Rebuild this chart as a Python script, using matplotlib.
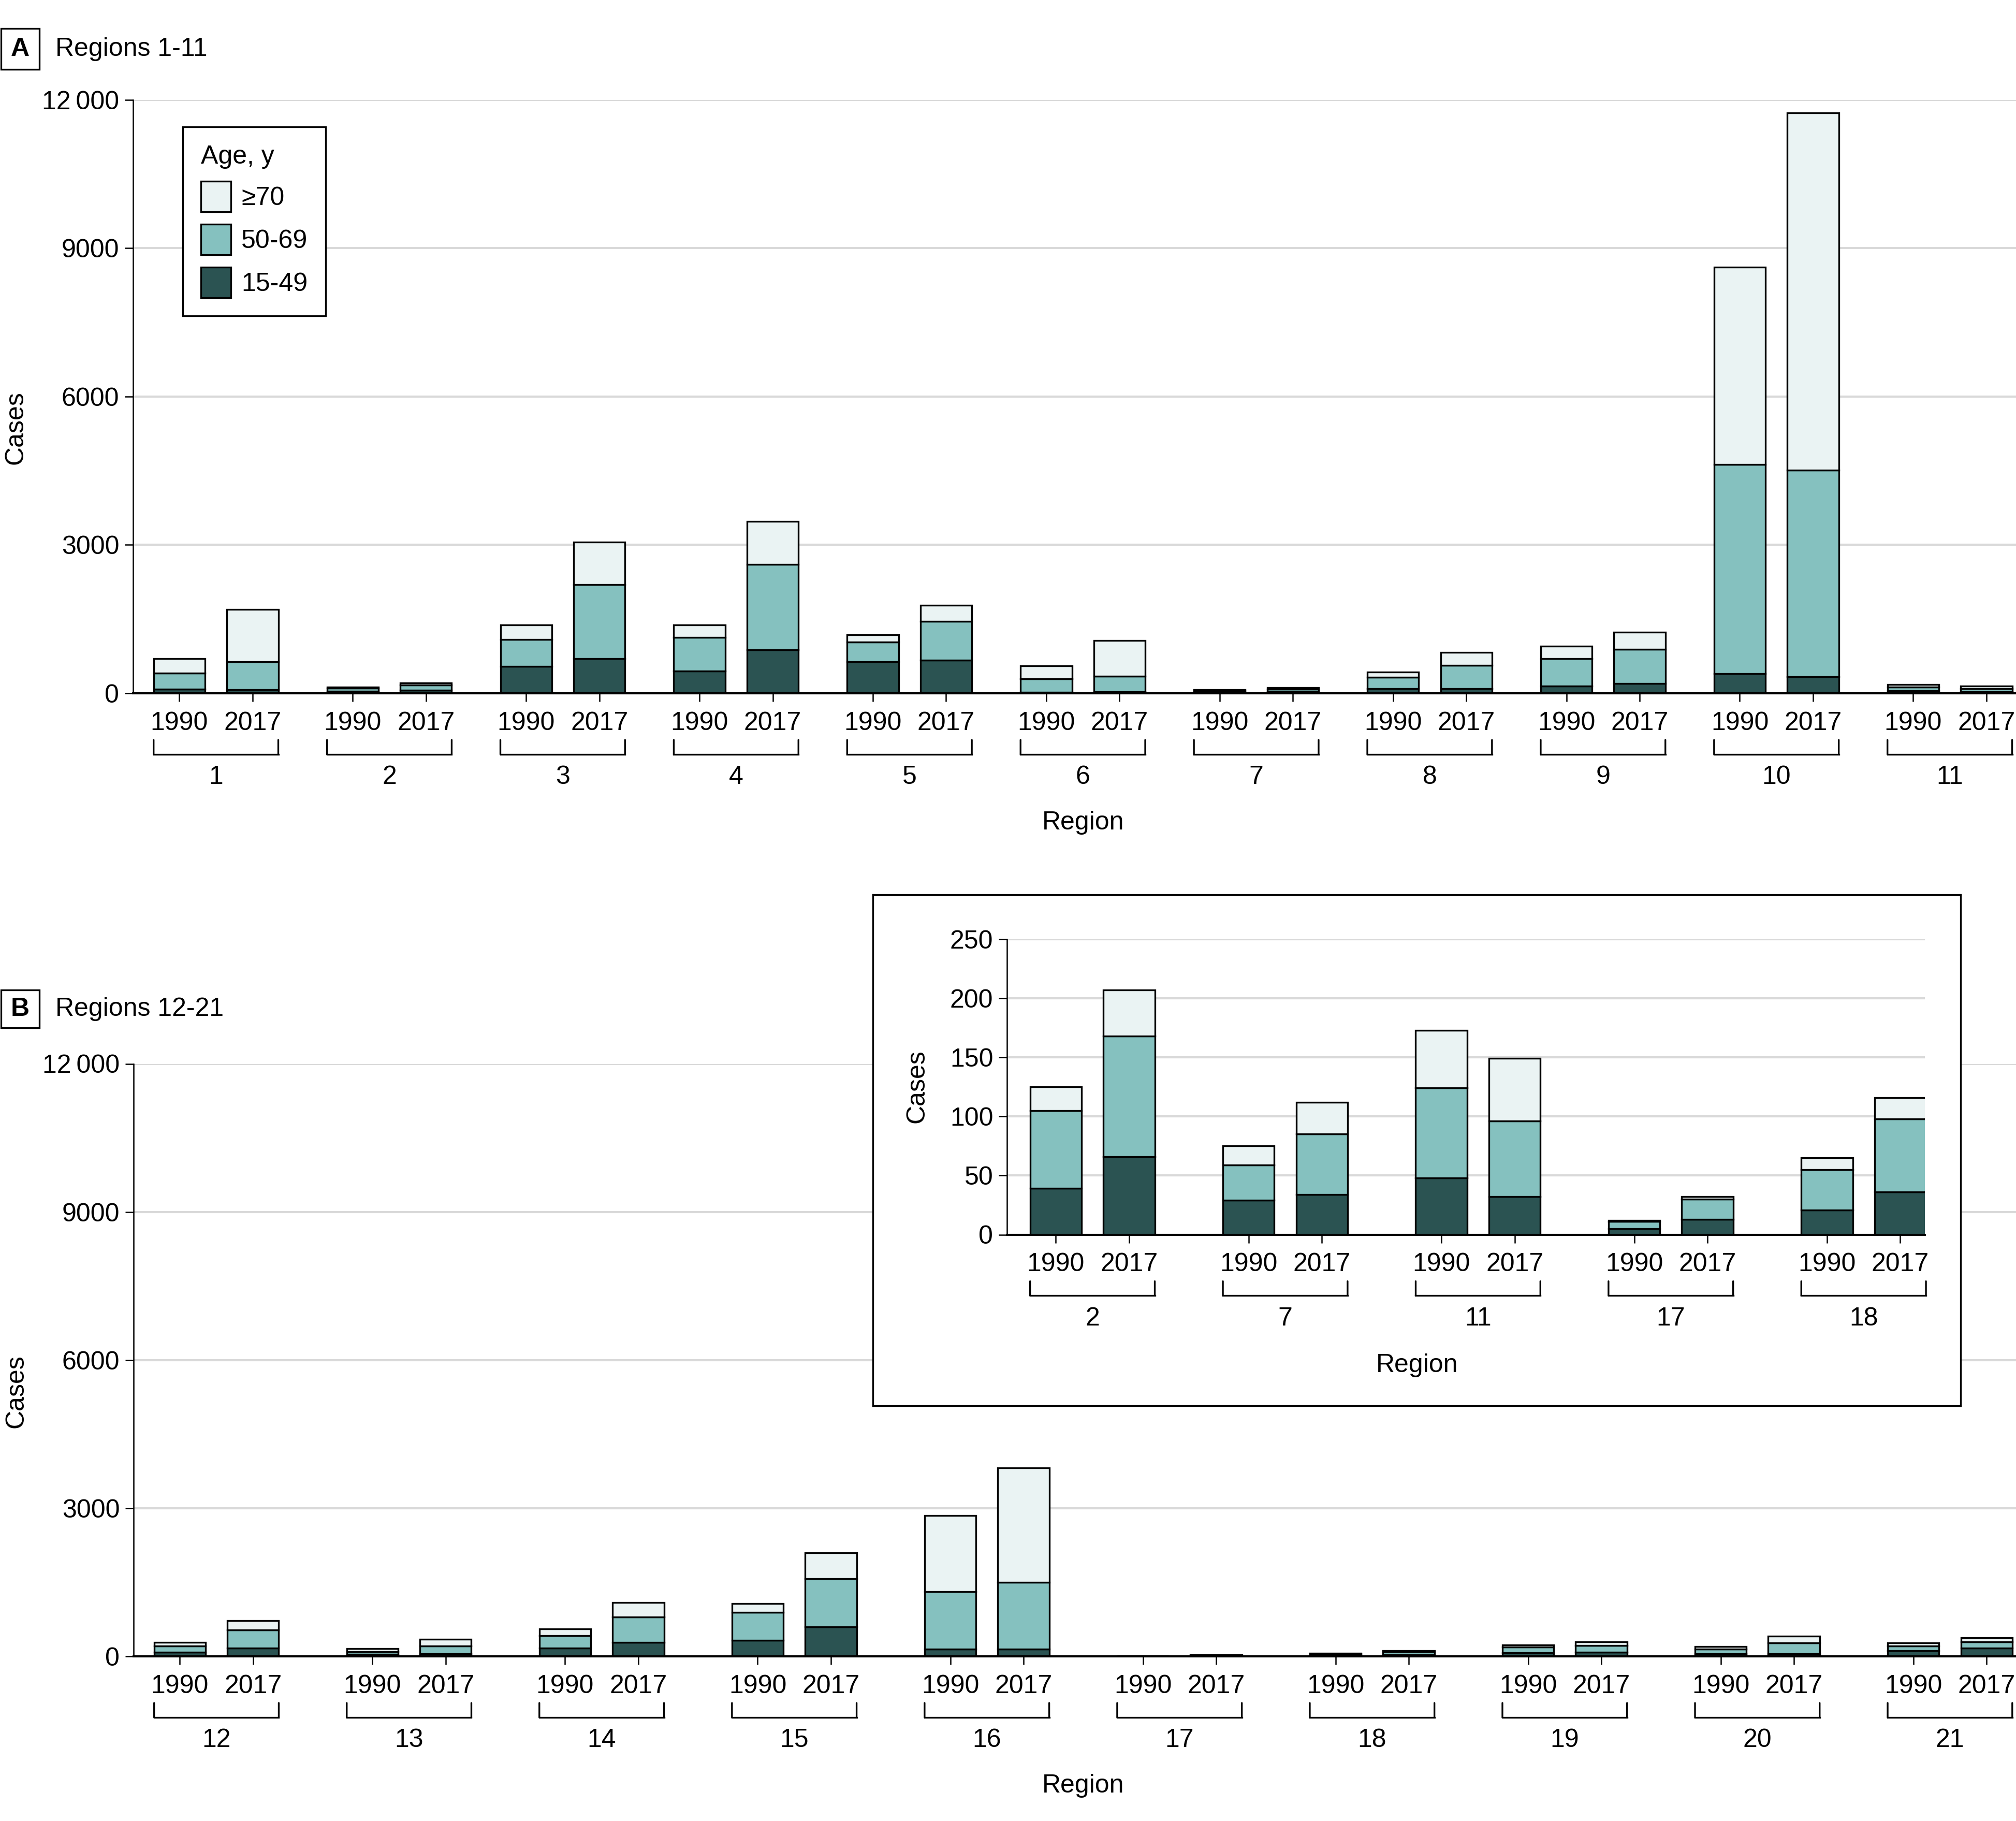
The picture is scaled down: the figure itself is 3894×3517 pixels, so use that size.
import numpy as np
import matplotlib.pyplot as plt
from matplotlib.patches import Rectangle, Patch
from matplotlib.transforms import ScaledTranslation

plt.rcParams['font.family'] = ['Liberation Sans', 'DejaVu Sans']
plt.rcParams['font.size'] = 12

# Panel A: regions 1-11
regions_a = list(range(1, 12))
a_1990_15_49 = [85, 39, 549, 448, 636, 23, 29, 91, 143, 398, 48]
a_1990_50_69 = [327, 66, 536, 681, 402, 266, 30, 238, 555, 4230, 76]
a_1990_70 = [293, 20, 300, 251, 149, 267, 16, 100, 252, 3991, 49]
a_2017_15_49 = [75, 66, 701, 876, 668, 33, 34, 94, 203, 339, 32]
a_2017_50_69 = [566, 102, 1498, 1728, 785, 317, 51, 471, 687, 4169, 64]
a_2017_70 = [1057, 39, 861, 873, 327, 716, 27, 259, 345, 7231, 53]

# Panel B: regions 12-21
regions_b = list(range(12, 22))
b_1990_15_49 = [88, 37, 173, 327, 143, 5, 21, 70, 51, 118]
b_1990_50_69 = [125, 55, 246, 566, 1166, 6, 34, 114, 96, 88]
b_1990_70 = [66, 66, 132, 173, 1544, 1, 10, 48, 55, 62]
b_2017_15_49 = [165, 55, 287, 596, 143, 13, 36, 88, 55, 165]
b_2017_50_69 = [368, 158, 507, 977, 1357, 17, 62, 136, 217, 133]
b_2017_70 = [191, 129, 298, 519, 2319, 2, 18, 66, 136, 81]

# regions shown in the zoomed inset
inset_regions = [2, 7, 11, 17, 18]

age_labels = ['15-49', '50-69', '\u226570']
colors = ['#2b5352', '#85c1bf', '#eaf3f3']

W, H = 3894, 3517
fig = plt.figure(figsize=(W / 300, H / 300), dpi=300)


def fig_rect(x0, y0, x1, y1):
    return [x0 / W, 1 - y1 / H, (x1 - x0) / W, (y1 - y0) / H]


def offset(ax, dy):
    return ax.get_xaxis_transform() + ScaledTranslation(0, -dy / 72, fig.dpi_scale_trans)


def draw_panel(ax, labels, s1990, s2017, first, step, xmax, ymax, yticks, yticklabels):
    n = len(labels)
    centers = first + step * np.arange(n)
    for xs, stacks in ((centers - 28.5, s1990), (centers + 28.5, s2017)):
        bottom = np.zeros(n)
        for vals, col in zip(stacks, colors):
            vals = np.asarray(vals, dtype=float)
            ax.bar(xs, vals, width=40, bottom=bottom, color=col,
                   edgecolor='black', linewidth=0.8, zorder=3)
            bottom += vals
    ax.set_xlim(0, xmax)
    ax.set_ylim(0, ymax)
    ax.set_xticks(np.concatenate([centers - 28.5, centers + 28.5]))
    ax.set_xticklabels(['1990'] * n + ['2017'] * n)
    ax.set_yticks(yticks)
    ax.set_yticklabels(yticklabels)
    ax.tick_params(axis='x', length=3.8, width=0.6, pad=4.5)
    ax.tick_params(axis='y', length=3.8, width=0.6, pad=2.6)
    ax.grid(axis='y', color='#d9d9d9', linewidth=1.0)
    ax.set_axisbelow(True)
    for s in ('top', 'right'):
        ax.spines[s].set_visible(False)
    ax.spines['left'].set_linewidth(0.6)
    ax.spines['bottom'].set_linewidth(1.0)
    ax.spines['bottom'].set_zorder(4)
    # brackets and region numbers under each pair of bars
    tr_top = offset(ax, 21.6)
    tr_bot = offset(ax, 28.3)
    for c, lab in zip(centers, labels):
        for x in (c - 48.5, c + 48.5):
            ax.annotate('', xy=(x, 0), xycoords=tr_bot, xytext=(x, 0),
                        textcoords=tr_top,
                        arrowprops=dict(arrowstyle='-', lw=0.8, color='black',
                                        shrinkA=0, shrinkB=0))
        ax.plot([c - 48.5, c + 48.5], [0, 0], transform=tr_bot,
                color='black', lw=0.8, clip_on=False, solid_capstyle='projecting')
        ax.text(c, 0, str(lab), transform=offset(ax, 39), ha='center', va='center')
    return centers


def panel_stacks(regs, all_regs, arrays):
    idx = [all_regs.index(r) for r in regs]
    return [[arr[i] for i in idx] for arr in arrays]


big_ticks = [0, 3000, 6000, 9000, 12000]
big_labels = ['0', '3000', '6000', '9000', '12\u2009000']

# Panel A
ax_a = fig.add_axes(fig_rect(257, 192.6, 3894, 1339))
draw_panel(ax_a, regions_a,
           [a_1990_15_49, a_1990_50_69, a_1990_70],
           [a_2017_15_49, a_2017_50_69, a_2017_70],
           64.5, 134.9, 1465, 12000, big_ticks, big_labels)
ax_a.set_ylabel('Cases', va='center')
ax_a.yaxis.set_label_coords(-0.0624, 0.447)
ax_a.text(739, 0, 'Region', transform=offset(ax_a, 60), ha='center', va='center')

handles = [Patch(facecolor=c, edgecolor='black', linewidth=0.8) for c in colors][::-1]
leg = ax_a.legend(handles, age_labels[::-1], title='Age, y', loc='upper left',
                  bbox_to_anchor=(0.0264, 0.9543), borderaxespad=0,
                  fancybox=False, edgecolor='black', framealpha=1,
                  handlelength=1.16, handleheight=1.42, labelspacing=0.49,
                  handletextpad=0.4, borderpad=0.7, alignment='left')
leg.get_frame().set_linewidth(0.8)

# Panel B
ax_b = fig.add_axes(fig_rect(258, 2054.5, 3894, 3199))
draw_panel(ax_b, regions_b,
           [b_1990_15_49, b_1990_50_69, b_1990_70],
           [b_2017_15_49, b_2017_50_69, b_2017_70],
           64.5, 149.9, 1465, 12000, big_ticks, big_labels)
ax_b.set_ylabel('Cases', va='center')
ax_b.yaxis.set_label_coords(-0.0624, 0.447)
ax_b.text(739, 0, 'Region', transform=offset(ax_b, 60), ha='center', va='center')

# Inset with the small regions
all_regions = regions_a + regions_b
all_1990 = [a_1990_15_49 + b_1990_15_49, a_1990_50_69 + b_1990_50_69, a_1990_70 + b_1990_70]
all_2017 = [a_2017_15_49 + b_2017_15_49, a_2017_50_69 + b_2017_50_69, a_2017_70 + b_2017_70]

box = fig.add_axes(fig_rect(1686, 1728, 3787, 2715))
box.set_zorder(5)
box.set_xticks([])
box.set_yticks([])
for s in box.spines.values():
    s.set_linewidth(0.8)

ax_i = fig.add_axes(fig_rect(1945, 1813.8, 3717.6, 2384.5))
ax_i.set_zorder(6)
ax_i.patch.set_alpha(0)
draw_panel(ax_i, inset_regions,
           panel_stacks(inset_regions, all_regions, all_1990),
           panel_stacks(inset_regions, all_regions, all_2017),
           66.5, 150, 714, 250, [0, 50, 100, 150, 200, 250],
           ['0', '50', '100', '150', '200', '250'])
ax_i.set_ylabel('Cases', va='center')
ax_i.yaxis.set_label_coords(-0.098, 0.502)
ax_i.text(319, 0, 'Region', transform=offset(ax_i, 60.5), ha='center', va='center')

# panel titles
for (y0, y1), letter, title in (((55, 134), 'A', 'Regions 1-11'),
                                ((1912, 1985), 'B', 'Regions 12-21')):
    fig.patches.append(Rectangle((2 / W, 1 - y1 / H), 74 / W, (y1 - y0) / H,
                                 transform=fig.transFigure, fill=False,
                                 edgecolor='black', linewidth=0.8))
    fig.text(39 / W, 1 - (y0 + y1) / 2 / H, letter, ha='center', va='center',
             fontweight='bold')
    fig.text(107 / W, 1 - (y0 + y1) / 2 / H, title, ha='left', va='center')

fig.savefig('out.png', dpi=300)
